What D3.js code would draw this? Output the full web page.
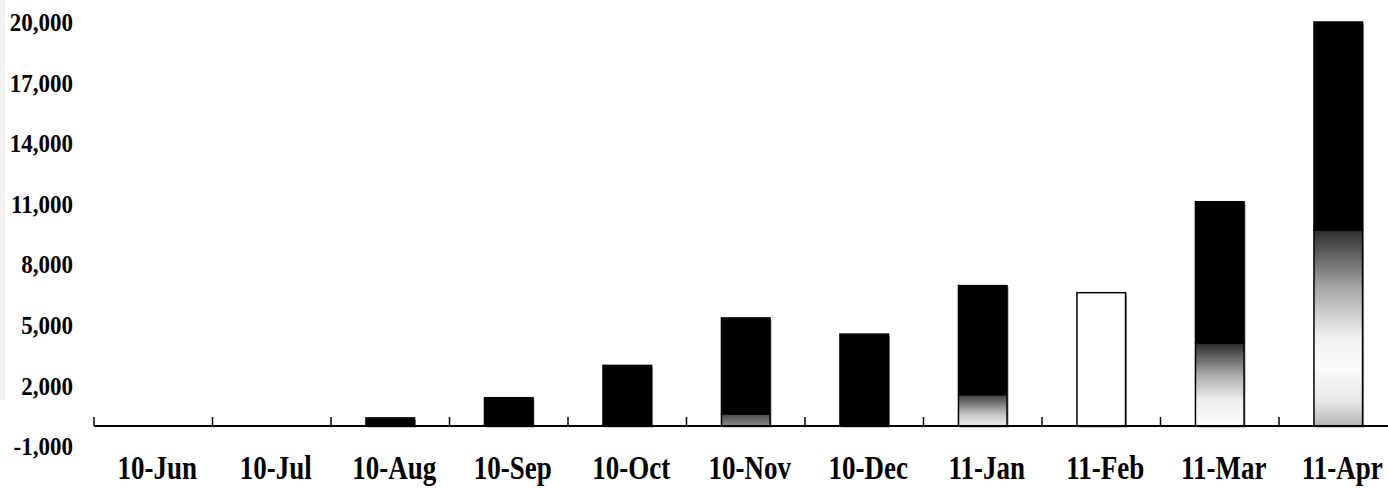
<!DOCTYPE html>
<html>
<head>
<meta charset="utf-8">
<script src="https://cdn.jsdelivr.net/npm/d3@7"></script>
<style>
  html, body { margin: 0; padding: 0; background: #fff; }
  svg { display: block; }
  text { font-family: "Liberation Serif", "Times New Roman", serif; font-weight: bold; fill: #000; }
</style>
</head>
<body>
<svg id="chart" width="1388" height="488"></svg>
<script>
// Monthly categories
const months = ["10-Jun", "10-Jul", "10-Aug", "10-Sep", "10-Oct", "10-Nov", "10-Dec", "11-Jan", "11-Feb", "11-Mar", "11-Apr"];
// Lower (shaded) segment of each bar
const lowerValues = [0, 0, 0, 0, 0, 600, 0, 1550, 6600, 4100, 9700];
// Upper (solid black) segment of each bar
const upperValues = [0, 0, 400, 1400, 3000, 4750, 4550, 5400, 0, 7000, 10300];
// Value axis tick labels
const yTickValues = [-1000, 2000, 5000, 8000, 11000, 14000, 17000, 20000];

// Shading of the lower segment, per month (offsets measured from the bottom)
const lowerShading = {
  "10-Nov": [[0, "#8a8a8a"], [1, "#4a4a4a"]],
  "11-Jan": [[0, "#ececec"], [0.35, "#c8c8c8"], [1, "#3c3c3c"]],
  "11-Feb": [[0, "#ffffff"], [1, "#ffffff"]],
  "11-Mar": [[0, "#fbfbfb"], [0.3, "#f0f0f0"], [0.6, "#b0b0b0"], [1, "#2a2a2a"]],
  "11-Apr": [[0, "#b4b4b4"], [0.12, "#e6e6e6"], [0.3, "#fbfbfb"], [0.45, "#f2f2f2"], [0.7, "#a8a8a8"], [1, "#2e2e2e"]]
};

const rows = months.map((m, i) => ({ month: m, lower: lowerValues[i], upper: upperValues[i] }));

const svg = d3.select("#chart");
const defs = svg.append("defs");

const x = d3.scaleBand()
  .domain(months)
  .range([94, 1397.5])
  .paddingInner(0.59)
  .paddingOuter(0.295);

const y = d3.scaleLinear()
  .domain([-1000, 20000])
  .range([446.2, 22]);

// faint strip along the left edge
svg.append("rect")
  .attr("x", 0).attr("y", 0).attr("width", 5).attr("height", 400)
  .attr("fill", "#f1f1f4");

// gradients for the shaded segments
Object.entries(lowerShading).forEach(([m, stops]) => {
  const g = defs.append("linearGradient")
    .attr("id", "shade-" + m)
    .attr("x1", 0).attr("y1", 1).attr("x2", 0).attr("y2", 0);
  stops.forEach(([o, c]) => g.append("stop").attr("offset", o).attr("stop-color", c));
});

const stack = d3.stack().keys(["lower", "upper"]);
const series = stack(rows);

const barG = svg.append("g");

// light shadow on the right of every bar
barG.selectAll("rect.shadow")
  .data(rows.filter(d => d.lower + d.upper > 0))
  .join("rect")
  .attr("class", "shadow")
  .attr("x", d => x(d.month) + 1.5)
  .attr("y", d => y(d.lower + d.upper) + 1.5)
  .attr("width", x.bandwidth())
  .attr("height", d => y(0) - y(d.lower + d.upper))
  .attr("fill", "#9a9a9a");

series.forEach(s => {
  barG.selectAll(null)
    .data(s.filter(p => p[1] - p[0] > 0))
    .join("rect")
    .attr("x", p => x(p.data.month))
    .attr("y", p => y(p[1]))
    .attr("width", x.bandwidth())
    .attr("height", p => y(p[0]) - y(p[1]))
    .attr("fill", p => s.key === "upper" ? "#000" : "url(#shade-" + p.data.month + ")")
    .attr("stroke", "#000")
    .attr("stroke-width", 1.5);
});

// category axis at zero, ticks pointing up at band boundaries
const axisY = y(0);
const axG = svg.append("g");
axG.append("line")
  .attr("x1", x.range()[0]).attr("x2", x.range()[1])
  .attr("y1", axisY).attr("y2", axisY)
  .attr("stroke", "#000").attr("stroke-width", 2);
axG.selectAll("line.tick")
  .data(months)
  .join("line")
  .attr("class", "tick")
  .attr("x1", (d, i) => x.range()[0] + i * x.step())
  .attr("x2", (d, i) => x.range()[0] + i * x.step())
  .attr("y1", axisY).attr("y2", axisY - 9)
  .attr("stroke", "#000").attr("stroke-width", 1.5);

axG.selectAll("text")
  .data(months)
  .join("text")
  .attr("transform", d => `translate(${x(d) + x.bandwidth() / 2 + 4},479) scale(1,1.25)`)
  .attr("text-anchor", "middle")
  .attr("font-size", 27)
  .text(d => d);

// value axis labels (plain hyphen for negatives)
const fmt = d3.formatLocale({ decimal: ".", thousands: ",", grouping: [3], currency: ["", ""], minus: "-" }).format(",");
svg.append("g").selectAll("text")
  .data(yTickValues)
  .join("text")
  .attr("transform", d => `translate(73,${y(d)}) scale(1,1.12)`)
  .attr("dy", "0.35em")
  .attr("text-anchor", "end")
  .attr("font-size", 23)
  .text(d => fmt(d));
</script>
</body>
</html>
